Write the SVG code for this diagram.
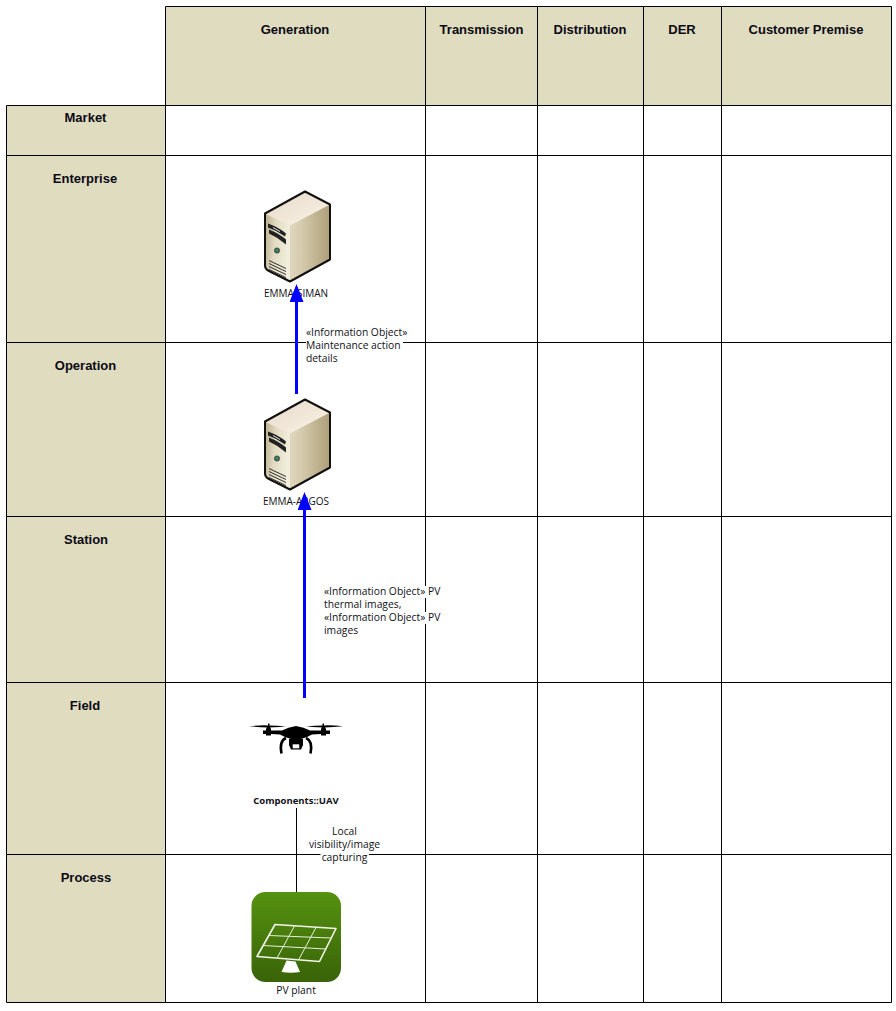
<svg xmlns="http://www.w3.org/2000/svg" width="896" height="1011" viewBox="0 0 896 1011">
<style>
.hdr{fill:#e0dcc0}
.grid{stroke:#000;stroke-width:1;fill:none}
.h{font:bold 13px "Liberation Sans",Arial,sans-serif;fill:#0a0a14;text-anchor:middle}
.t{font:10.3px "Open Sans","Noto Sans",sans-serif;fill:#101018}
.c{text-anchor:middle}
.b{font-weight:bold;font-size:9.5px}
.s{font-size:10px}
.bg{fill:#fff}
.blue{stroke:#0000ff;stroke-width:3;fill:none}
</style>
<defs>
<marker id="ah" markerUnits="userSpaceOnUse" markerWidth="18" markerHeight="14" refX="2" refY="7" orient="auto" viewBox="0 0 18 14"><path d="M0 0L18 7L0 14Z" fill="#0000ff"/></marker>
<linearGradient id="sF" x1="0" y1="0" x2="1" y2="0.2"><stop offset="0" stop-color="#b9ad8c"/><stop offset=".45" stop-color="#e2dbc2"/><stop offset="1" stop-color="#f2eedd"/></linearGradient>
<linearGradient id="sS" x1="0" y1="0" x2="1" y2="0"><stop offset="0" stop-color="#f3eedf"/><stop offset=".55" stop-color="#d6ccae"/><stop offset="1" stop-color="#ad9f78"/></linearGradient>
<linearGradient id="sT" x1="0" y1="0" x2="1" y2="1"><stop offset="0" stop-color="#e8d8c8"/><stop offset="1" stop-color="#f8f4e6"/></linearGradient>
<linearGradient id="pv" x1="0" y1="0" x2="0" y2="1"><stop offset="0" stop-color="#559210"/><stop offset="1" stop-color="#396308"/></linearGradient>
<g id="server">
<path d="M40 0L65 13V68L25 90L0 77V22Z" fill="url(#sS)"/>
<path d="M0 22L25 34V90L0 77Z" fill="url(#sF)"/>
<path d="M0 22L40 0L65 13L25 34Z" fill="url(#sT)"/>
<path d="M40 0L65 13V68L25 90L5 80Q0 78 0 74V22Z" fill="none" stroke="#111" stroke-width="2" stroke-linejoin="round"/>
<path d="M3 32Q14 36 21 42L20 45Q12 39 3 36ZM4 38Q14 42 21 48V53Q13 46 4 42Z" fill="#222"/>
<path d="M8 36L15 40" stroke="#ddd" stroke-width="1"/>
<circle cx="12" cy="59" r="2.600" fill="#3b8060" stroke="#333" stroke-width=".8"/>
<path d="M4 69L21 77M4 72L21 80M4 75L21 83M4 78L21 86" stroke="#333" stroke-width="1"/>
</g>
</defs>

<g id="grid">
<rect class="hdr" x="165.500" y="6.500" width="726" height="99"/>
<rect class="hdr" x="6.500" y="105.500" width="159" height="897"/>
<path class="grid" d="M165.500 6.500H891.500V1002.500H6.500V105.500H891.500M6.500 155.500H891.500M6.500 342.500H891.500M6.500 516.500H891.500M6.500 682.500H891.500M6.500 854.500H891.500M165.500 6.500V1002.500M425.500 6.500V1002.500M537.500 6.500V1002.500M643.500 6.500V1002.500M721.500 6.500V1002.500"/>
<text class="h" x="295" y="34">Generation</text>
<text class="h" x="481.500" y="34">Transmission</text>
<text class="h" x="590" y="34">Distribution</text>
<text class="h" x="682" y="34">DER</text>
<text class="h" x="806" y="34">Customer Premise</text>
<text class="h" x="85.500" y="122">Market</text>
<text class="h" x="85" y="183">Enterprise</text>
<text class="h" x="85.500" y="370">Operation</text>
<text class="h" x="86" y="544">Station</text>
<text class="h" x="85" y="710">Field</text>
<text class="h" x="86" y="882">Process</text>
</g>

<g id="EMMA-SIMAN">
<use href="#server" x="265" y="191.500"/>
<text class="t s c" x="296" y="297">EMMA-SIMAN</text>
</g>
<g id="EMMA-ARGOS">
<use href="#server" x="265" y="399.500"/>
<text class="t s c" x="296" y="505">EMMA-ARGOS</text>
</g>
<g id="UAV">
<path d="M249 726.300Q262 725 268 725.500V723.500H269.500V725.500Q278 725.500 286 726.800L268 727.500Q258 727 249 726.300ZM343 726.300Q330 725 324 725.500V723.500H322.500V725.500Q314 725.500 306 726.800L324 727.500Q334 727 343 726.300Z" fill="#000"/>
<path d="M263 730.500H266V729L267 727H270L271 729V730.500L282 730.500Q288 727 296 726Q304 727 310 730.500L321 730.500V729L322 727H325L326 729V730.500H330V734H326V735.500H321V734L312 734.500Q306 738 301 739H291Q286 738 280 734.500L271 734V735.500H266V734H263Z" fill="#000"/>
<path d="M286 738Q279 741 281.500 753.500" fill="none" stroke="#000" stroke-width="2.600"/>
<path d="M306 738Q313 741 310.500 753.500" fill="none" stroke="#000" stroke-width="2.600"/>
<path d="M289 739H303V745L301 749.500H291L289 745Z" fill="#000"/>
<rect x="292.700" y="744.300" width="6.500" height="4" fill="#fff"/>
<text class="t b c" x="296" y="804">Components::UAV</text>
</g>
<g id="PV-plant">
<rect x="251.500" y="892" width="89.500" height="90" rx="14" fill="url(#pv)"/>
<path d="M275 924.500L336 928.500L319.500 961.500L257 956.500Z" fill="none" stroke="#f2f5ea" stroke-width="1.600" stroke-linejoin="round"/>
<path d="M269 935.500L331 938M263 945.500L326 949M294.500 926L277 958M316 927.500L298.500 960" fill="none" stroke="#e8efd8" stroke-width="1"/>
<path d="M286.500 960.500L295.500 961.500L300 972Q291 973.500 281.500 972Z" fill="#fff"/>
<text class="t c" x="296" y="994">PV plant</text>
</g>

<g id="connectors">
<path d="M296.500 808V892" stroke="#000" stroke-width="1" fill="none"/>
<rect class="bg" x="320.500" y="851" width="48.500" height="12"/>
<rect class="bg" x="306" y="339" width="97" height="12"/>
<rect class="bg" x="324" y="586" width="115" height="12"/>
<rect class="bg" x="324" y="612" width="115" height="12"/>
<path class="blue" d="M296.500 394V300" marker-end="url(#ah)"/>
<path class="blue" d="M304.500 698V508" marker-end="url(#ah)"/>
<text class="t" x="306" y="336">«Information Object»</text>
<text class="t" x="306" y="349">Maintenance action</text>
<text class="t" x="306" y="362">details</text>
<text class="t" x="324" y="595">«Information Object» PV</text>
<text class="t" x="324" y="608">thermal images,</text>
<text class="t" x="324" y="621">«Information Object» PV</text>
<text class="t" x="324" y="634">images</text>
<text class="t c" x="344.500" y="835">Local</text>
<text class="t c" x="344.500" y="848">visibility/image</text>
<text class="t c" x="344.500" y="861">capturing</text>
</g>
</svg>
